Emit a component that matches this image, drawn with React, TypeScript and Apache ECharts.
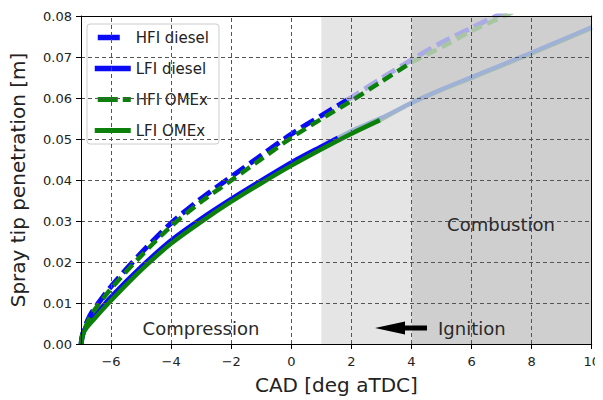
import React, { useEffect, useRef } from "react";
import * as echarts from "echarts";

const FONT = "DejaVu Sans";

// Tick values
const xTicks = [-6, -4, -2, 0, 2, 4, 6, 8, 10];
const xGrid = [-6, -4, -2, 0, 2, 4, 6, 8];
const yGrid = [0.01, 0.02, 0.03, 0.04, 0.05, 0.06, 0.07];

// Phase regions (CAD)
const ignitionRegion = [1, 4];
const combustionRegion = [4, 10];

// HFI diesel (blue dashed)
const hfiDieselX = [-7, -6.9, -6.7, -6.5, -6, -5, -4, -3, -2, -1, 0, 1, 1.85];
const hfiDieselY = [0, 0.0035, 0.007, 0.0092, 0.014, 0.0222, 0.0295, 0.0355, 0.0408, 0.046, 0.0512, 0.0557, 0.0595];
const hfiDieselFadedX = [1.85, 2, 3, 4, 5, 6, 6.5, 7, 7.5];
const hfiDieselFadedY = [0.0595, 0.0601, 0.0648, 0.0693, 0.0735, 0.0771, 0.0789, 0.0806, 0.0823];

// LFI diesel (blue solid)
const lfiDieselX = [-7, -6.95, -6.8, -6.5, -6, -5, -4, -3, -2, -1, 0, 1, 1.55];
const lfiDieselY = [0, 0.0025, 0.0045, 0.0072, 0.0115, 0.0188, 0.0253, 0.0306, 0.0354, 0.0399, 0.0443, 0.0482, 0.0503];
const lfiDieselFadedX = [1.55, 2, 3, 4, 5, 6, 7, 8, 9, 10];
const lfiDieselFadedY = [0.0503, 0.052, 0.0552, 0.0588, 0.0621, 0.0651, 0.0681, 0.0711, 0.0742, 0.0773];

// HFI OMEx (green dashed)
const hfiOmexX = [-7, -6.9, -6.7, -6.5, -6, -5, -4, -3, -2, -1, 0, 1, 2, 3, 4];
const hfiOmexY = [0, 0.0032, 0.0066, 0.0088, 0.0135, 0.0215, 0.0287, 0.0347, 0.0399, 0.0451, 0.0503, 0.0549, 0.0593, 0.064, 0.0687];
const hfiOmexFadedX = [4, 5, 6, 7, 7.5, 8];
const hfiOmexFadedY = [0.0687, 0.0724, 0.0763, 0.0797, 0.0813, 0.083];

// LFI OMEx (green solid)
const lfiOmexX = [-7, -6.95, -6.8, -6.5, -6, -5, -4, -3, -2, -1, 0, 1, 2, 2.95];
const lfiOmexY = [0, 0.0022, 0.0041, 0.0066, 0.0106, 0.018, 0.0245, 0.0298, 0.0347, 0.0392, 0.0435, 0.0475, 0.0513, 0.0546];
const lfiOmexFadedX = [2.95, 4, 5, 6, 7, 8, 9, 10];
const lfiOmexFadedY = [0.0546, 0.0588, 0.062, 0.0649, 0.0679, 0.0709, 0.074, 0.0771];

const zip = (xs: number[], ys: number[]) => xs.map((x, i) => [x, ys[i]]);

const BLUE = "#0a0af5";
const GREEN = "#0b800b";

export default function App() {
  const ref = useRef<HTMLDivElement>(null);

  useEffect(() => {
    if (!ref.current) return;
    const chart = echarts.init(ref.current, undefined, { renderer: "svg" });

    const lineBase = {
      type: "line" as const,
      showSymbol: false,
      symbol: "none",
      smooth: 0.3,
      clip: true,
    };

    const option: any = {
      animation: false,
      backgroundColor: "#ffffff",
      textStyle: { fontFamily: FONT },
      grid: { left: 81, right: 11, top: 16, bottom: 51 },
      legend: {
        data: [
          { name: "HFI diesel", lineStyle: { type: [22, 14], dashOffset: -3, width: 5.5 } },
          { name: "LFI diesel", lineStyle: { width: 5.5 } },
          { name: "HFI OMEx", lineStyle: { type: [20, 5], dashOffset: -3, width: 5 } },
          { name: "LFI OMEx", lineStyle: { width: 5 } },
        ],
        orient: "vertical",
        left: 87,
        top: 24,
        padding: [6, 10, 6, 5],
        itemWidth: 36,
        itemHeight: 14,
        itemGap: 16,
        backgroundColor: "rgba(255,255,255,0.85)",
        borderColor: "#cccccc",
        borderWidth: 1,
        borderRadius: 3,
        itemStyle: { opacity: 0 },
        textStyle: { fontSize: 15, color: "#222", fontFamily: FONT },
        selectedMode: false,
      },
      xAxis: [
        {
          type: "value",
          min: -7,
          max: 10,
          interval: 1,
          z: 5,
          axisLine: { show: true, onZero: false, lineStyle: { color: "#000", width: 1 } },
          axisTick: { show: true, length: 5, customValues: xTicks, lineStyle: { color: "#000" } },
          axisLabel: {
            customValues: xTicks,
            fontSize: 13,
            color: "#222",
            margin: 11,
            fontFamily: FONT,
            formatter: (v: number) => (v < 0 ? "\u2212" + Math.abs(v) : String(v)),
          },
          splitLine: { show: false },
          name: "CAD [deg aTDC]",
          nameLocation: "middle",
          nameGap: 31,
          nameTextStyle: { fontSize: 20, color: "#222", fontFamily: FONT },
        },
        {
          type: "value",
          position: "top",
          min: -7,
          max: 10,
          z: 5,
          axisLine: { show: true, onZero: false, lineStyle: { color: "#000", width: 1 } },
          axisTick: { show: false },
          axisLabel: { show: false },
          splitLine: { show: false },
        },
      ],
      yAxis: [
        {
          type: "value",
          min: 0,
          max: 0.08,
          interval: 0.01,
          z: 5,
          axisLine: { show: true, onZero: false, lineStyle: { color: "#000", width: 1 } },
          axisTick: { show: true, length: 5, lineStyle: { color: "#000" } },
          axisLabel: {
            fontSize: 13,
            color: "#222",
            margin: 9,
            fontFamily: FONT,
            formatter: (v: number) => v.toFixed(2),
          },
          splitLine: { show: false },
          name: "Spray tip penetration [m]",
          nameLocation: "middle",
          nameGap: 53,
          nameTextStyle: { fontSize: 20, color: "#222", fontFamily: FONT },
        },
        {
          type: "value",
          position: "right",
          min: 0,
          max: 0.08,
          z: 5,
          axisLine: { show: true, onZero: false, lineStyle: { color: "#000", width: 1 } },
          axisTick: { show: false },
          axisLabel: { show: false },
          splitLine: { show: false },
        },
      ],
      series: [
        {
          type: "line",
          name: "shade",
          data: [],
          z: 1,
          silent: true,
          markArea: {
            silent: true,
            data: [
              [
                { xAxis: ignitionRegion[0], itemStyle: { color: "#e5e5e5" } },
                { xAxis: ignitionRegion[1] },
              ],
              [
                { xAxis: combustionRegion[0], itemStyle: { color: "#cfcfcf" } },
                { xAxis: combustionRegion[1] },
              ],
            ],
          },
        },
        {
          type: "line",
          name: "grid",
          data: [],
          z: 2,
          silent: true,
          markLine: {
            silent: true,
            symbol: ["none", "none"],
            label: { show: false },
            lineStyle: { color: "#555", width: 1, type: [4, 3] },
            data: [
              ...xGrid.map((v) => ({ xAxis: v })),
              ...yGrid.map((v) => ({ yAxis: v })),
            ],
          },
        },
        {
          ...lineBase,
          name: "HFI diesel faded",
          z: 3,
          data: zip(hfiDieselFadedX, hfiDieselFadedY),
          lineStyle: { color: "#aaaae6", width: 5, type: [15, 6] },
        },
        {
          ...lineBase,
          name: "HFI OMEx faded",
          z: 3,
          data: zip(hfiOmexFadedX, hfiOmexFadedY),
          lineStyle: { color: "#a9c6a4", width: 4.5, type: [11, 6] },
        },
        {
          ...lineBase,
          name: "LFI OMEx faded",
          z: 3,
          data: zip(lfiOmexFadedX, lfiOmexFadedY),
          lineStyle: { color: "#a6bfae", width: 4.5 },
        },
        {
          ...lineBase,
          name: "LFI diesel faded",
          z: 3,
          data: zip(lfiDieselFadedX, lfiDieselFadedY),
          lineStyle: { color: "#9fb1d6", width: 4 },
        },
        {
          ...lineBase,
          name: "HFI diesel",
          z: 4,
          color: BLUE,
          data: zip(hfiDieselX, hfiDieselY),
          lineStyle: { color: BLUE, width: 5, type: [15, 6] },
        },
        {
          ...lineBase,
          name: "LFI diesel",
          z: 4,
          color: BLUE,
          data: zip(lfiDieselX, lfiDieselY),
          lineStyle: { color: BLUE, width: 4.5 },
        },
        {
          ...lineBase,
          name: "HFI OMEx",
          z: 4,
          color: GREEN,
          data: zip(hfiOmexX, hfiOmexY),
          lineStyle: { color: GREEN, width: 4.5, type: [11, 6] },
        },
        {
          ...lineBase,
          name: "LFI OMEx",
          z: 4,
          color: GREEN,
          data: zip(lfiOmexX, lfiOmexY),
          lineStyle: { color: GREEN, width: 4.5 },
        },
      ],
      graphic: [
        {
          type: "text",
          x: 201,
          y: 328,
          z: 10,
          style: {
            text: "Compression",
            fontSize: 18,
            fontFamily: FONT,
            fill: "#2a2a2a",
            align: "center",
            verticalAlign: "middle",
          },
        },
        {
          type: "text",
          x: 501,
          y: 224,
          z: 10,
          style: {
            text: "Combustion",
            fontSize: 18,
            fontFamily: FONT,
            fill: "#2a2a2a",
            align: "center",
            verticalAlign: "middle",
          },
        },
        {
          type: "text",
          x: 438,
          y: 328,
          z: 10,
          style: {
            text: "Ignition",
            fontSize: 18,
            fontFamily: FONT,
            fill: "#2a2a2a",
            align: "left",
            verticalAlign: "middle",
          },
        },
        {
          type: "polygon",
          z: 10,
          shape: {
            points: [
              [375, 328],
              [405, 321.5],
              [405, 325.5],
              [427, 325.5],
              [427, 330.5],
              [405, 330.5],
              [405, 334.5],
            ],
          },
          style: { fill: "#000" },
        },
      ],
    };

    chart.setOption(option);
    return () => chart.dispose();
  }, []);

  return <div ref={ref} style={{ width: 603, height: 400, marginLeft: -8, marginTop: -8 }} />;
}
